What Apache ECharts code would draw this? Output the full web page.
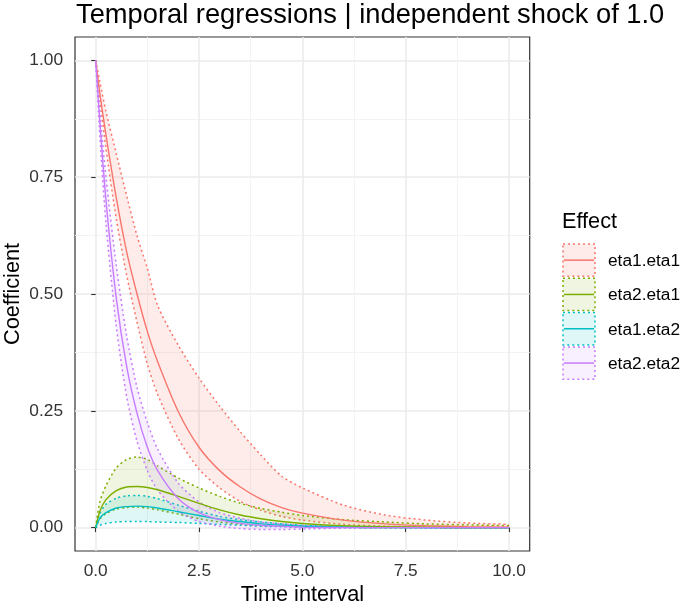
<!DOCTYPE html>
<html>
<head>
<meta charset="utf-8">
<script src="https://cdn.jsdelivr.net/npm/echarts@6/dist/echarts.min.js"></script>
<style>
  html, body { margin: 0; padding: 0; background: #fff; }
  #main { width: 685px; height: 606px; }
</style>
</head>
<body>
<div id="main"></div>
<script>
// time grid (x) shared by every series
const timeSteps = [0, 0.1, 0.25, 0.5, 0.75, 1, 1.25, 1.5, 2, 2.5, 3, 3.5, 4, 4.5, 5, 6, 7, 8, 9, 10];

const effectNames = ['eta1.eta1', 'eta2.eta1', 'eta1.eta2', 'eta2.eta2'];
const effectColors = ['#F8766D', '#7CAE00', '#00BFC4', '#C77CFF'];
const effectFills = ['rgba(248,118,109,0.14)', 'rgba(124,174,0,0.12)', 'rgba(0,191,196,0.12)', 'rgba(199,124,255,0.12)'];

// eta1.eta1
const eta1eta1Mean  = [1.0, 0.93, 0.84, 0.705, 0.59, 0.50, 0.42, 0.355, 0.248, 0.172, 0.122, 0.087, 0.061, 0.043, 0.031, 0.016, 0.008, 0.004, 0.002, 0.001];
const eta1eta1Lower = [1.0, 0.92, 0.81, 0.66, 0.54, 0.44, 0.35, 0.285, 0.19, 0.125, 0.085, 0.056, 0.037, 0.024, 0.016, 0.007, 0.003, 0.001, 0.0, 0.0];
const eta1eta1Upper = [1.0, 0.955, 0.89, 0.80, 0.71, 0.625, 0.555, 0.475, 0.39, 0.32, 0.26, 0.205, 0.155, 0.11, 0.085, 0.048, 0.027, 0.016, 0.010, 0.007];

// eta2.eta1
const eta2eta1Mean  = [0, 0.035, 0.06, 0.079, 0.087, 0.088, 0.086, 0.081, 0.067, 0.052, 0.038, 0.027, 0.019, 0.013, 0.009, 0.004, 0.002, 0.001, 0, 0];
const eta2eta1Lower = [0, 0.018, 0.03, 0.04, 0.043, 0.044, 0.042, 0.038, 0.029, 0.019, 0.012, 0.007, 0.004, 0.003, 0.002, 0.001, 0, 0, 0, 0];
const eta2eta1Upper = [0, 0.055, 0.09, 0.128, 0.146, 0.151, 0.146, 0.132, 0.106, 0.085, 0.067, 0.052, 0.041, 0.033, 0.026, 0.017, 0.012, 0.008, 0.006, 0.004];

// eta1.eta2
const eta1eta2Mean  = [0, 0.02, 0.032, 0.042, 0.045, 0.046, 0.045, 0.042, 0.034, 0.026, 0.018, 0.013, 0.008, 0.005, 0.003, 0.001, 0, 0, 0, 0];
const eta1eta2Lower = [0, 0.005, 0.009, 0.012, 0.013, 0.013, 0.013, 0.012, 0.011, 0.009, 0.007, 0.005, 0.003, 0.002, 0.001, 0, 0, 0, 0, 0];
const eta1eta2Upper = [0, 0.03, 0.05, 0.063, 0.068, 0.069, 0.067, 0.062, 0.048, 0.035, 0.024, 0.017, 0.012, 0.008, 0.005, 0.002, 0.001, 0, 0, 0];

// eta2.eta2
const eta2eta2Mean  = [1.0, 0.87, 0.70, 0.49, 0.345, 0.245, 0.172, 0.122, 0.062, 0.032, 0.017, 0.009, 0.005, 0.003, 0.001, 0, 0, 0, 0, 0];
const eta2eta2Lower = [1.0, 0.84, 0.65, 0.43, 0.28, 0.185, 0.122, 0.08, 0.035, 0.013, 0.003, -0.002, -0.004, -0.004, -0.003, -0.001, 0, 0, 0, 0];
const eta2eta2Upper = [1.0, 0.89, 0.75, 0.56, 0.41, 0.30, 0.225, 0.168, 0.095, 0.055, 0.032, 0.02, 0.012, 0.008, 0.005, 0.002, 0.001, 0, 0, 0];

// tick labels
const xTicks = [0, 2.5, 5, 7.5, 10];
const xMinorTicks = [1.25, 3.75, 6.25, 8.75];
const yTicks = [0, 0.25, 0.5, 0.75, 1];
const yMinorTicks = [0.125, 0.375, 0.625, 0.875];

const effects = [
  {mean: eta1eta1Mean, lower: eta1eta1Lower, upper: eta1eta1Upper},
  {mean: eta2eta1Mean, lower: eta2eta1Lower, upper: eta2eta1Upper},
  {mean: eta1eta2Mean, lower: eta1eta2Lower, upper: eta1eta2Upper},
  {mean: eta2eta2Mean, lower: eta2eta2Lower, upper: eta2eta2Upper}
];

const FONT = '"Liberation Sans", Arial, sans-serif';
const SMOOTH = 0.25;
const dotted = [2, 3];

const series = [];
// ribbons: fill + dotted outlines, one custom series per effect
effects.forEach((e, k) => {
  const col = effectColors[k];
  series.push({
    type: 'custom', name: effectNames[k] + ' ribbon', silent: true,
    data: timeSteps.map((t, i) => [t, e.lower[i], e.upper[i]]),
    encode: {x: 0, y: [1, 2]},
    renderItem: (params, api) => {
      if (params.dataIndex !== 0) return null;
      const up = timeSteps.map((t, i) => api.coord([t, e.upper[i]]));
      const lo = timeSteps.map((t, i) => api.coord([t, e.lower[i]]));
      return {
        type: 'group',
        children: [
          {type: 'polygon', shape: {points: up.concat(lo.slice().reverse()), smooth: SMOOTH},
           style: {fill: effectFills[k], stroke: null}},
          {type: 'polyline', shape: {points: lo, smooth: SMOOTH},
           style: {fill: null, stroke: col, lineWidth: 1.5, lineDash: dotted}},
          {type: 'polyline', shape: {points: up, smooth: SMOOTH},
           style: {fill: null, stroke: col, lineWidth: 1.5, lineDash: dotted}}
        ]
      };
    }
  });
});
// estimates
effects.forEach((e, k) => {
  series.push({
    type: 'line', name: effectNames[k], data: timeSteps.map((t, i) => [t, e.mean[i]]),
    showSymbol: false, smooth: SMOOTH, silent: true,
    lineStyle: {color: effectColors[k], width: 1.4}
  });
});

// legend drawn as ggplot-style keys
const keyX = 562, keyTop = 243, keyW = 34, keyH = 34.3;
const legendGraphics = [{
  type: 'text', x: 562, y: 222,
  style: {text: 'Effect', fontSize: 21.7, fontFamily: FONT, fill: '#000', verticalAlign: 'middle'}
}];
effectNames.forEach((n, k) => {
  const cy = keyTop + k * keyH + keyH / 2;
  legendGraphics.push({
    type: 'rect', shape: {x: keyX + 1, y: keyTop + k * keyH + 1, width: keyW - 2, height: keyH - 2},
    style: {fill: effectFills[k], stroke: effectColors[k], lineWidth: 1.5, lineDash: dotted}
  });
  legendGraphics.push({
    type: 'line', shape: {x1: keyX + 2, y1: cy, x2: keyX + keyW - 2, y2: cy},
    style: {stroke: effectColors[k], lineWidth: 1.5}
  });
  legendGraphics.push({
    type: 'text', x: 608, y: cy + 1,
    style: {text: n, fontSize: 17.3, fontFamily: FONT, fill: '#000', verticalAlign: 'middle'}
  });
});

const option = {
  animation: false,
  backgroundColor: '#fff',
  title: {
    text: 'Temporal regressions | independent shock of 1.0',
    left: 76, top: 2, padding: 0,
    textStyle: {fontSize: 27.3, fontWeight: 'normal', color: '#000', fontFamily: FONT}
  },
  grid: {
    left: 75, right: 155.3, top: 37, bottom: 55,
    outerBoundsMode: 'none', containLabel: false,
    show: true, borderColor: '#333', borderWidth: 1.2, backgroundColor: 'transparent'
  },
  xAxis: [{
    type: 'value', min: -0.5, max: 10.5,
    name: 'Time interval', nameLocation: 'middle', nameGap: 33.5, nameMoveOverlap: false,
    nameTextStyle: {fontSize: 21.7, color: '#000', fontFamily: FONT},
    axisLine: {show: false},
    axisTick: {show: true, length: 4.5, customValues: xTicks, lineStyle: {color: '#333', width: 1.1}},
    axisLabel: {customValues: xTicks, formatter: v => v.toFixed(1), fontSize: 17.3, color: '#333', fontFamily: FONT, margin: 12},
    splitLine: {show: true, lineStyle: {color: '#ebebeb', width: 1.5}}
  }, {
    type: 'value', min: -0.5, max: 10.5, position: 'bottom',
    axisLine: {show: false}, axisLabel: {show: false},
    axisTick: {show: false, customValues: xMinorTicks},
    splitLine: {show: true, lineStyle: {color: '#f3f3f3', width: 1}}
  }],
  yAxis: [{
    type: 'value', min: -0.05, max: 1.05,
    name: 'Coefficient', nameLocation: 'middle', nameGap: 51, nameMoveOverlap: false,
    nameTextStyle: {fontSize: 21.7, color: '#000', fontFamily: FONT},
    axisLine: {show: false},
    axisTick: {show: true, length: 4.5, customValues: yTicks, lineStyle: {color: '#333', width: 1.1}},
    axisLabel: {customValues: yTicks, formatter: v => v.toFixed(2), fontSize: 17.3, color: '#333', fontFamily: FONT, margin: 12},
    splitLine: {show: true, lineStyle: {color: '#ebebeb', width: 1.5}}
  }, {
    type: 'value', min: -0.05, max: 1.05, position: 'left',
    axisLine: {show: false}, axisLabel: {show: false},
    axisTick: {show: false, customValues: yMinorTicks},
    splitLine: {show: true, lineStyle: {color: '#f3f3f3', width: 1}}
  }],
  series: series,
  graphic: legendGraphics
};

const chart = echarts.init(document.getElementById('main'), null, {renderer: 'canvas'});
chart.setOption(option);
</script>
</body>
</html>
